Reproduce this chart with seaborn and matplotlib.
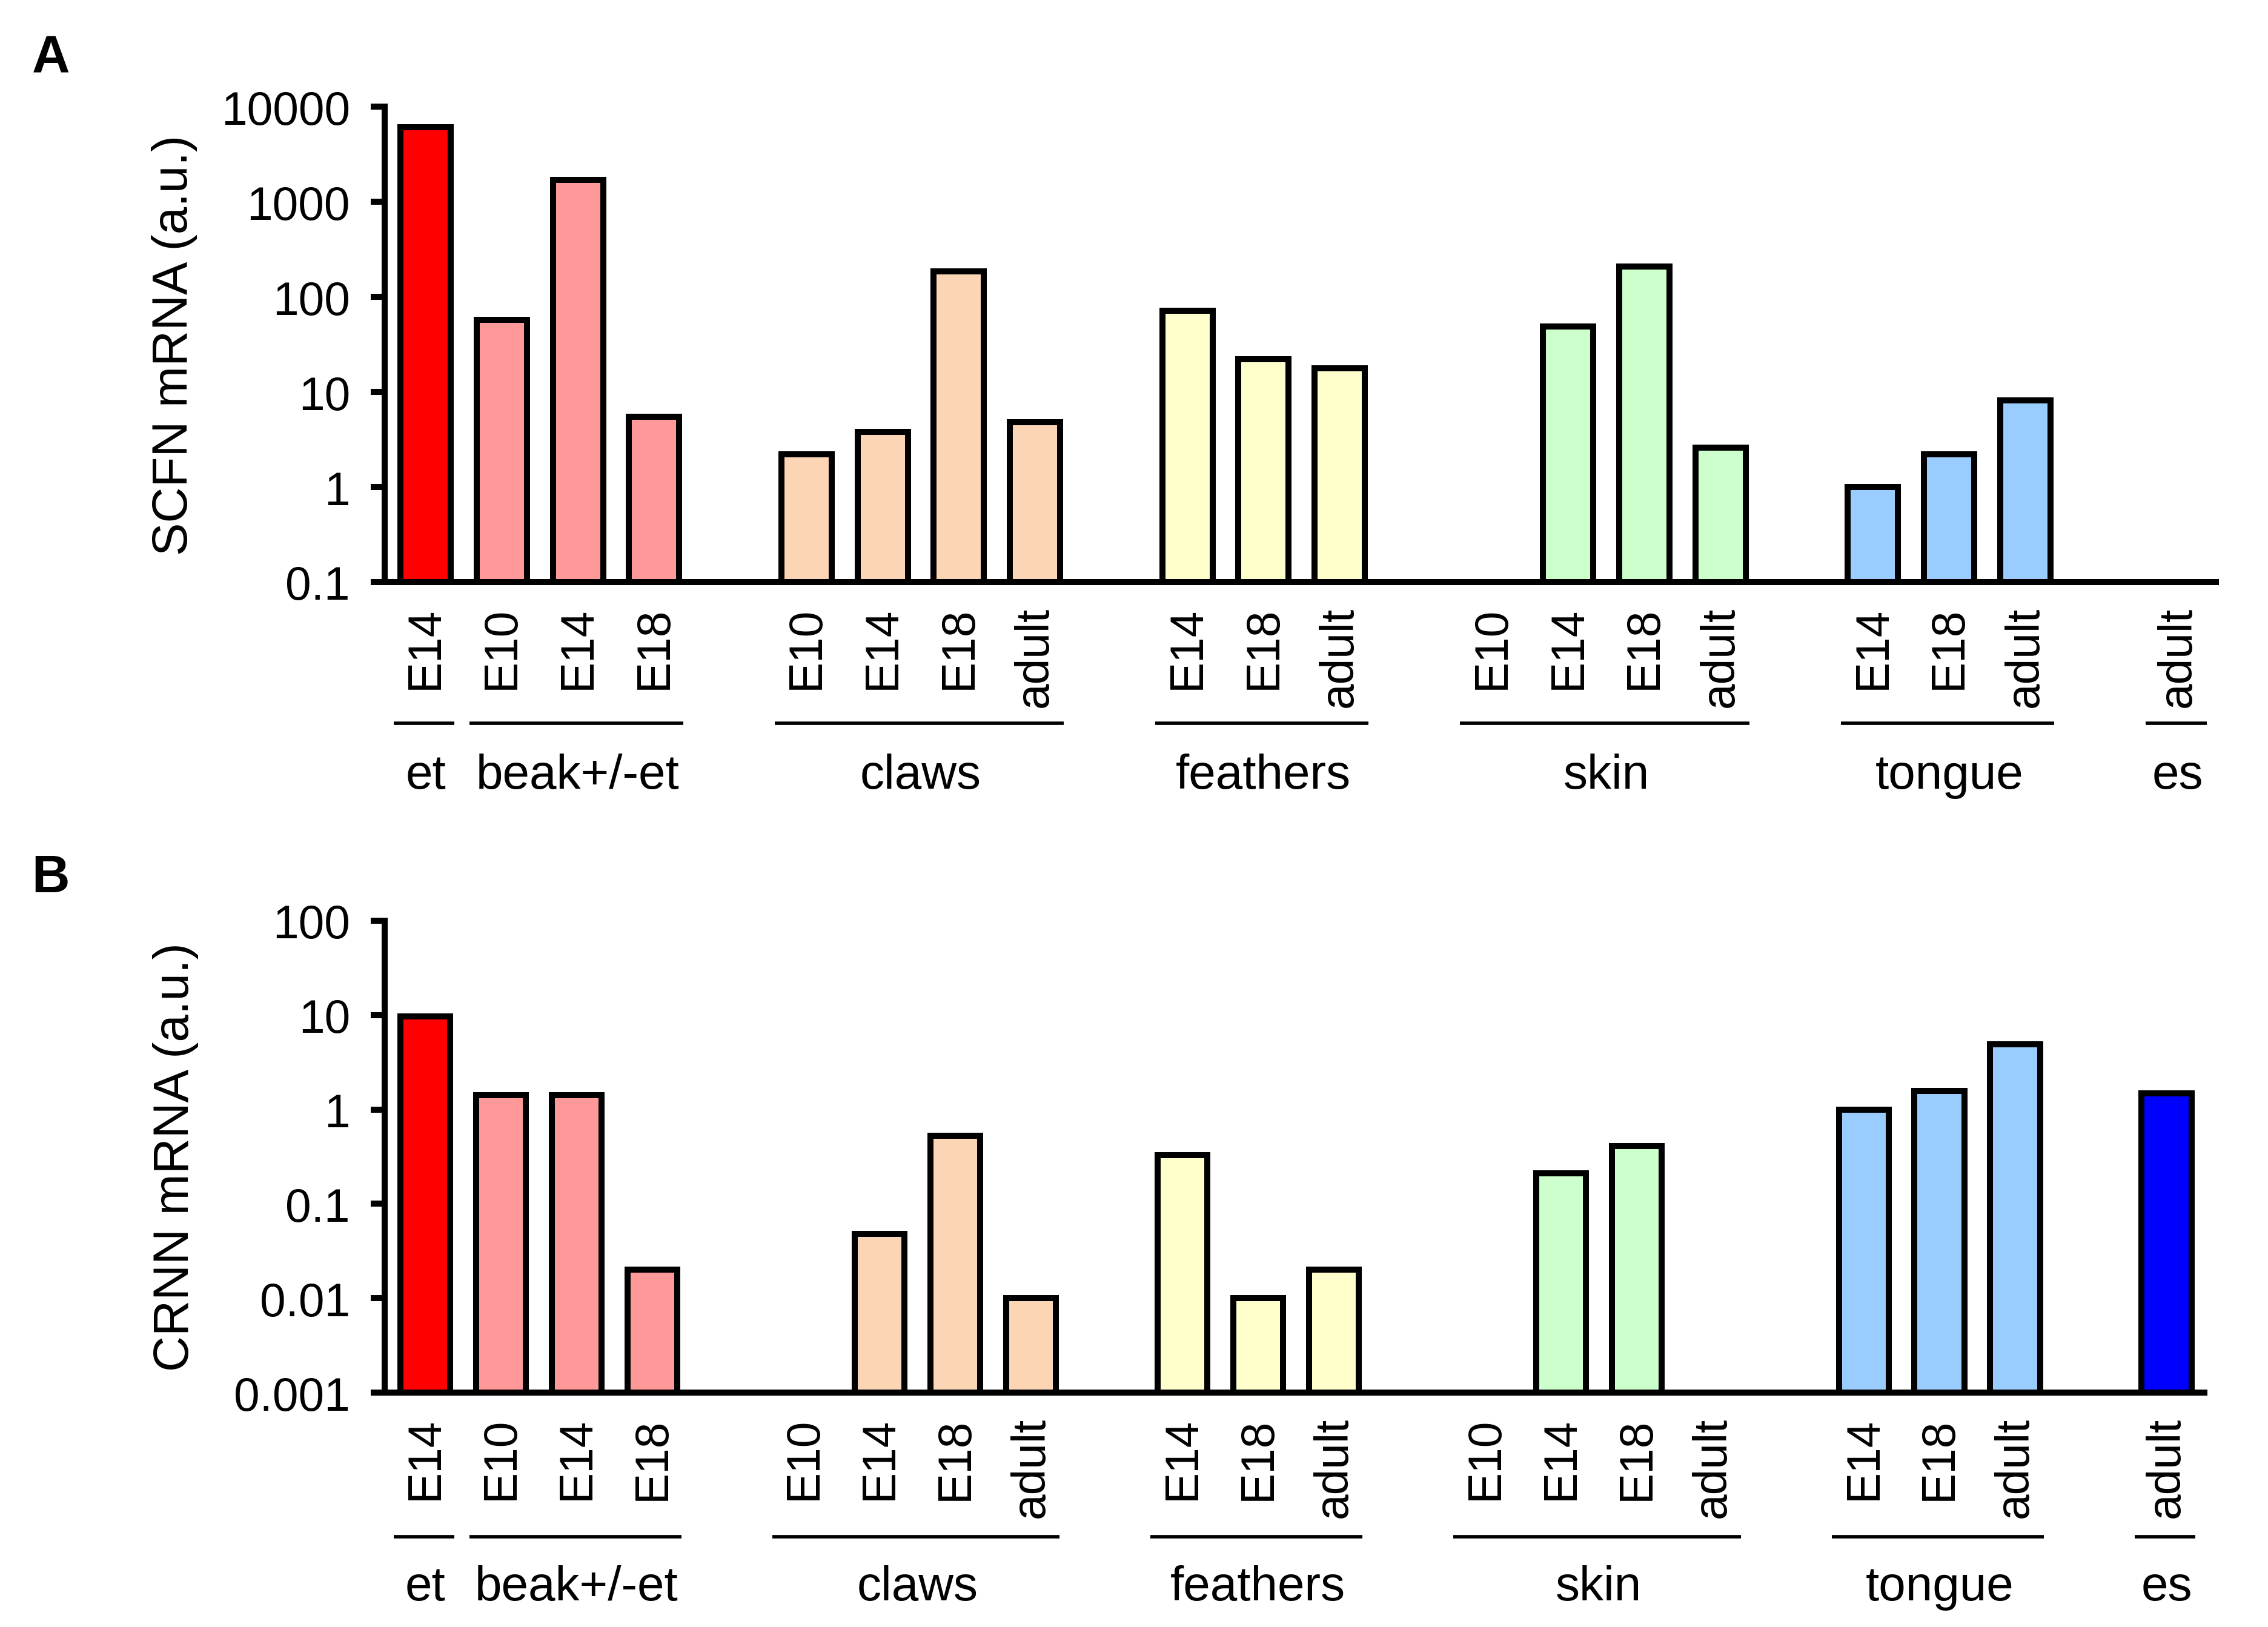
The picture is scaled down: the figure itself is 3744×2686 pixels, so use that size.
import numpy as np
import pandas as pd
import matplotlib
matplotlib.use("Agg")
import matplotlib.pyplot as plt
import seaborn as sns
from matplotlib.ticker import FixedLocator, FixedFormatter, NullLocator

nan = np.nan

# ---------------- data ----------------
groups = ["et", "beak+/-et", "claws", "feathers", "skin", "tongue", "es"]
group_stages = [
    ["E14"],
    ["E10", "E14", "E18"],
    ["E10", "E14", "E18", "adult"],
    ["E14", "E18", "adult"],
    ["E10", "E14", "E18", "adult"],
    ["E14", "E18", "adult"],
    ["adult"],
]
group_colors = ["#FF0000", "#FF9999", "#FCD5B5", "#FFFFCC", "#CCFFCC", "#99CCFF", "#0000FF"]

scfn_values = [6100,
               57, 1700, 5.5,
               2.2, 3.8, 187, 4.8,
               72, 22, 17.7,
               nan, 49, 209, 2.6,
               1.0, 2.2, 8.1,
               nan]
crnn_values = [9.6,
               1.42, 1.42, 0.02,
               nan, 0.048, 0.53, 0.01,
               0.33, 0.01, 0.02,
               nan, 0.21, 0.41, nan,
               1.0, 1.58, 4.9,
               1.48]

scfn_ticks = [0.1, 1, 10, 100, 1000, 10000]
scfn_ticklabels = ["0.1", "1", "10", "100", "1000", "10000"]
crnn_ticks = [0.001, 0.01, 0.1, 1, 10, 100]
crnn_ticklabels = ["0.001", "0.01", "0.1", "1", "10", "100"]

# layout: spacer slot before each group (0 = none)
spacer_before = [0, 0, 1, 1, 1, 1, 1]

# ---------------- build table ----------------
rows = []
order = []
xlabels = []
group_slots = []
gap_n = 0
k = 0
for gi, (g, stages) in enumerate(zip(groups, group_stages)):
    for _ in range(spacer_before[gi]):
        order.append(f"_gap{gap_n}")
        xlabels.append("")
        gap_n += 1
    first = len(order)
    for s in stages:
        cid = f"{g}|{s}"
        order.append(cid)
        xlabels.append(s)
        rows.append({"id": cid, "group": g, "stage": s,
                     "SCFN": scfn_values[k], "CRNN": crnn_values[k]})
        k += 1
    group_slots.append((first, len(order) - 1))
df = pd.DataFrame(rows)
palette = dict(zip(groups, group_colors))

# ---------------- style ----------------
sns.set_style("white")
plt.rcParams["font.family"] = ["Liberation Sans", "DejaVu Sans"]
plt.rcParams["text.color"] = "black"
plt.rcParams["axes.labelcolor"] = "black"
plt.rcParams["xtick.color"] = "black"
plt.rcParams["ytick.color"] = "black"

fig = plt.figure(figsize=(15.6, 11.1958), dpi=240)
axA = fig.add_axes([0.1695, 0.642, 0.8075, 0.292])
axB = fig.add_axes([0.1695, 0.144, 0.8025, 0.290])

panels = [
    (axA, "SCFN", scfn_ticks, scfn_ticklabels, "SCFN mRNA (a.u.)", -0.297, -0.407),
    (axB, "CRNN", crnn_ticks, crnn_ticklabels, "CRNN mRNA (a.u.)", -0.305, -0.412),
]

for ax, col, ticks, tlabels, ylabel, line_y, text_y in panels:
    d = df.dropna(subset=[col])
    sns.barplot(data=d, x="id", y=col, hue="group", palette=palette, order=order,
                hue_order=groups, dodge=False, width=0.66, saturation=1,
                edgecolor="black", linewidth=3.0, legend=False, ax=ax, errorbar=None)
    ax.set_yscale("log")
    ax.set_ylim(ticks[0], ticks[-1])
    ax.set_xlim(-0.54, len(order) - 0.5)
    ax.yaxis.set_major_locator(FixedLocator(ticks))
    ax.yaxis.set_major_formatter(FixedFormatter(tlabels))
    ax.yaxis.set_minor_locator(NullLocator())
    ax.set_xticks(range(len(order)))
    ax.set_xticklabels(xlabels, rotation=90, fontsize=23)
    ax.tick_params(axis="x", length=0, pad=12)
    ax.tick_params(axis="y", length=7, width=3, pad=10, labelsize=23, direction="out",
                   left=True, color="black")
    for sp in ["top", "right"]:
        ax.spines[sp].set_visible(False)
    for sp in ["left", "bottom"]:
        ax.spines[sp].set_linewidth(3)
        ax.spines[sp].set_color("black")
    ax.set_xlabel("")
    ax.set_ylabel(ylabel, fontsize=24.5)
    ax.yaxis.set_label_coords(-0.102, 0.5)

    trans = ax.get_xaxis_transform()
    for g, (a, b) in zip(groups, group_slots):
        ax.plot([a - 0.42, b + 0.38], [line_y, line_y], color="black", lw=1.7,
                transform=trans, clip_on=False, solid_capstyle="butt")
        ax.text((a + b) / 2, text_y, g, transform=trans, ha="center", va="center",
                fontsize=24)

fig.text(0.014, 0.964, "A", fontsize=26, fontweight="bold", ha="left", va="center")
fig.text(0.014, 0.46, "B", fontsize=26, fontweight="bold", ha="left", va="center")

fig.savefig("out.png", dpi=240, facecolor="white")
